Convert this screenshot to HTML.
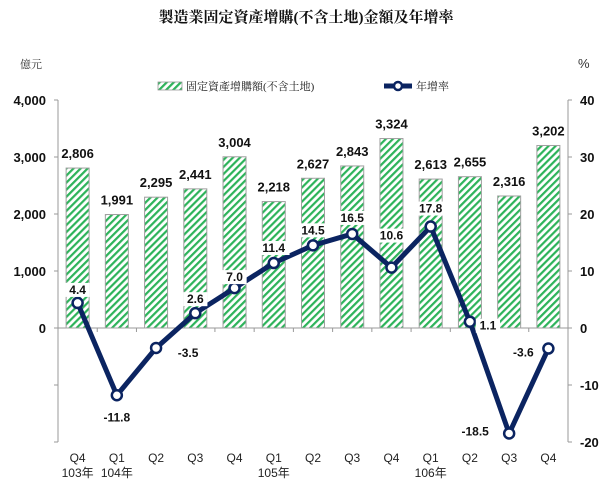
<!DOCTYPE html>
<html><head><meta charset="utf-8"><style>
body{margin:0;background:#fff;}
svg text{font-family:"Liberation Sans","Noto Sans CJK TC",sans-serif;}
svg text.serif{font-family:"Liberation Serif","Noto Serif CJK SC",serif;}
</style></head><body>
<svg id="c" width="612" height="481" xmlns="http://www.w3.org/2000/svg">
<defs>
<pattern id="hatch" patternUnits="userSpaceOnUse" width="5" height="5" patternTransform="rotate(45)">
<rect width="5" height="5" fill="#fff"/><rect width="2.2" height="5" fill="#2db35a"/>
</pattern>
</defs>
<text class="serif" x="306" y="22" text-anchor="middle" font-size="15" font-weight="bold" fill="#111">製造業固定資產增購(不含土地)金額及年增率</text>
<text class="serif" x="20" y="68" font-size="11" fill="#333">億元</text>
<text x="578" y="68" font-size="13" fill="#333">%</text>
<g>
<rect x="158" y="82" width="24" height="8" fill="url(#hatch)" stroke="#999" stroke-width="0.8"/>
<text class="serif" x="186" y="90" font-size="11" fill="#222">固定資產增購額(不含土地)</text>
<line x1="384" y1="86" x2="412" y2="86" stroke="#0b2461" stroke-width="5"/>
<circle cx="398" cy="86" r="4" fill="#fff" stroke="#0b2461" stroke-width="2.5"/>
<text class="serif" x="416" y="90" font-size="11" fill="#222">年增率</text>
</g>
<g id="axes"></g>
<g id="bars"></g>
<g id="line"></g>
</svg>
<script>
const categories=["Q4","Q1","Q2","Q3","Q4","Q1","Q2","Q3","Q4","Q1","Q2","Q3","Q4"];
const yearLabels=["103年","104年","","","","105年","","","","106年","","",""];
const amounts=[2806,1991,2295,2441,3004,2218,2627,2843,3324,2613,2655,2316,3202];
const growth=[4.4,-11.8,-3.5,2.6,7.0,11.4,14.5,16.5,10.6,17.8,1.1,-18.5,-3.6];
const leftTicks=[0,1000,2000,3000,4000];
const rightTicks=[-20,-10,0,10,20,30,40];
// label placement: [dx,dy]
const growthLabelOffsets=[[0,-13],[0,22],[32,5],[0,-14],[0,-11],[0,-15],[0,-15],[0,-16],[0,-32],[0,-18],[18,4],[-34,-2],[-25,4]];

const NS="http://www.w3.org/2000/svg";
const X0=58,X1=568,Y0=328,PXPER1000=57,PXPER10=57;
const n=categories.length,bw=(X1-X0)/n;
const xC=i=>X0+bw*(i+0.5);
const yL=v=>Y0-v/1000*PXPER1000;
const yR=v=>Y0-v/10*PXPER10;
function mk(tag,attrs,parent,text){const e=document.createElementNS(NS,tag);for(const k in attrs)e.setAttribute(k,attrs[k]);if(text!==undefined)e.textContent=text;parent.appendChild(e);return e;}
const ax=document.getElementById('axes'),bg=document.getElementById('bars'),lg=document.getElementById('line');
let e;
e=mk('line',{x1:X0,y1:yL(4000),x2:X0,y2:yR(-20),stroke:'#999'},ax);


e=mk('line',{x1:X1,y1:yR(40),x2:X1,y2:yR(-20),stroke:'#999'},ax);


e=mk('line',{x1:X0,y1:Y0,x2:X1,y2:Y0,stroke:'#999'},ax);


mk('line',{x1:X0-4,y1:yR(-10),x2:X0,y2:yR(-10),stroke:'#999'},ax);
mk('line',{x1:X0-4,y1:yR(-20),x2:X0,y2:yR(-20),stroke:'#999'},ax);
leftTicks.forEach(v=>{mk('line',{x1:X0-4,y1:yL(v),x2:X0,y2:yL(v),stroke:'#999'},ax);
 e=mk('text',{x:X0-12,y:yL(v)+5,'text-anchor':'end','font-size':13,'font-weight':'bold',fill:'#111'},ax,v.toLocaleString('en-US'));
 
 });
rightTicks.forEach(v=>{mk('line',{x1:X1,y1:yR(v),x2:X1+4,y2:yR(v),stroke:'#999'},ax);
 e=mk('text',{x:X1+12,y:yR(v)+5,'font-size':13,'font-weight':'bold',fill:'#111'},ax,String(v));
 
 });
for(let i=0;i<=n;i++)mk('line',{x1:X0+bw*i,y1:Y0,x2:X0+bw*i,y2:Y0+4,stroke:'#999'},ax);
categories.forEach((c,i)=>{
 e=mk('text',{x:xC(i),y:462,'text-anchor':'middle','font-size':12,fill:'#222'},ax,c);
 
 
 if(yearLabels[i]){e=mk('text',{x:xC(i),y:477,'text-anchor':'middle','font-size':12,fill:'#222'},ax,yearLabels[i]);
 
 }
});
amounts.forEach((v,i)=>{
 e=mk('rect',{x:xC(i)-11.5,y:yL(v),width:23,height:Y0-yL(v),fill:'url(#hatch)',stroke:'#a0a0a0','stroke-width':1},bg);
 
 
 e=mk('text',{x:xC(i),y:yL(v)-10,'text-anchor':'middle','font-size':13,'font-weight':'bold',fill:'#111'},bg,v.toLocaleString('en-US'));
 
 
});
e=mk('polyline',{points:growth.map((v,i)=>xC(i)+','+yR(v)).join(' '),fill:'none',stroke:'#0b2461','stroke-width':5,'stroke-linejoin':'round'},lg);


growth.forEach((v,i)=>{
 e=mk('circle',{cx:xC(i),cy:yR(v),r:5,fill:'#fff',stroke:'#0b2461','stroke-width':2.5},lg);
 
 
});
growth.forEach((v,i)=>{
 const o=growthLabelOffsets[i];const tx=xC(i)+o[0],ty=yR(v)+o[1]+4;const s=v.toFixed(1);
 mk('rect',{x:tx-s.length*3.7-1,y:ty-11,width:s.length*7.4+2,height:14,fill:'#fff'},lg);
 e=mk('text',{x:tx,y:ty,'text-anchor':'middle','font-size':12,'font-weight':'bold',fill:'#111'},lg,s);
 
 
});
</script>
</body></html>
